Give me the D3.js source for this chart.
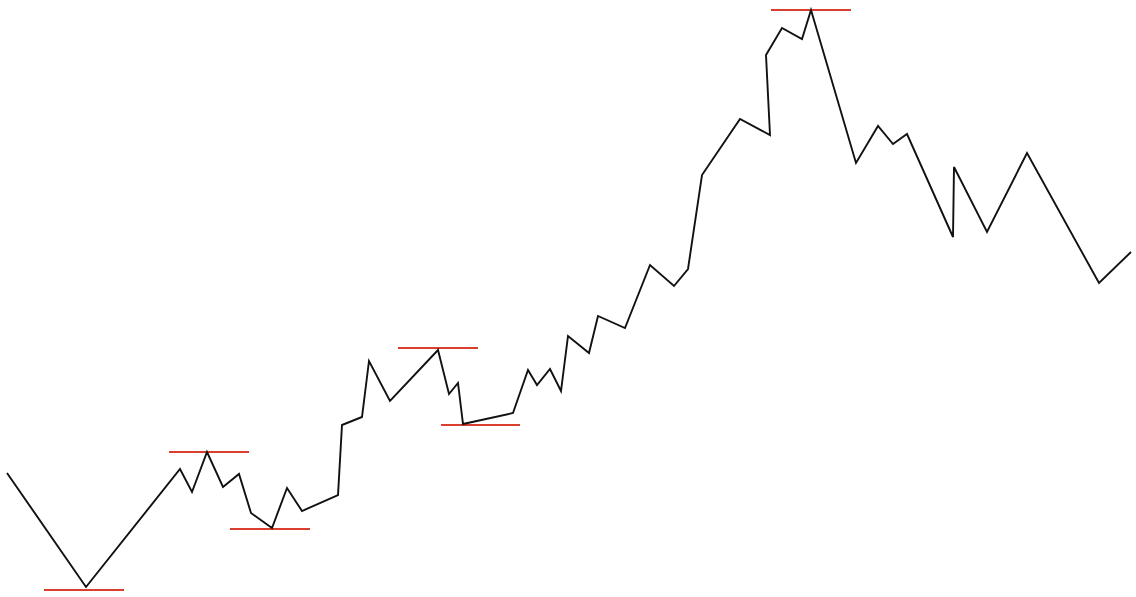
<!DOCTYPE html>
<html lang="en">
<head>
    <meta charset="UTF-8">
    <title>Price swings</title>
    <script src="https://d3js.org/d3.v7.min.js"></script>
    <style>
        html, body { margin: 0; padding: 0; background: #fff; }
        #chart { width: 1136px; height: 597px; }
    </style>
</head>
<body>
    <div id="chart"></div>
    <script>
        const width = 1136
        const height = 597

        // time step and price for each turning point of the path
        const times = [7, 86, 180, 192, 207, 223, 239, 251, 272, 287, 302, 338, 342, 362, 369, 390,
            438, 449, 458, 463, 513, 528, 537, 550, 561, 568, 589, 598, 625, 650, 674, 688,
            702, 740, 770, 766, 782, 802, 811, 856, 878, 893, 907, 953, 954, 987, 1027, 1099, 1131]
        const prices = [127, 13, 131, 108, 148, 113, 126, 87, 72, 112, 89, 105, 175, 183, 239, 199,
            250, 206, 217, 176, 187, 230, 215, 231, 209, 264, 247, 284, 272, 335, 314, 331,
            425, 481, 465, 545, 572, 561, 590, 437, 474, 456, 466, 363, 433, 368, 447, 317, 348]

        // support / resistance levels
        const levelPrices = [10, 148, 71, 252, 175, 590]
        const levelStart = [44, 169, 230, 398, 441, 771]
        const levelEnd = [124, 249, 310, 478, 520, 851]

        const points = times.map((t, i) => ({ t: t, p: prices[i] }))
        const levels = levelPrices.map((p, i) => ({ p: p, from: levelStart[i], to: levelEnd[i] }))

        const x = d3.scaleLinear().domain([0, 1136]).range([0, width])
        const y = d3.scaleLinear().domain([0, 600]).range([600, 0])

        const svg = d3.select("#chart").append("svg")
            .attr("width", width)
            .attr("height", height)
            .attr("viewBox", [0, 0, width, height])

        svg.append("g")
            .selectAll("line")
            .data(levels)
            .enter().append("line")
            .attr("x1", d => x(d.from))
            .attr("x2", d => x(d.to))
            .attr("y1", d => y(d.p))
            .attr("y2", d => y(d.p))
            .attr("stroke", "#d93f2c")
            .attr("stroke-width", 2)

        const line = d3.line().x(d => x(d.t)).y(d => y(d.p))

        svg.append("path")
            .attr("d", line(points))
            .attr("fill", "none")
            .attr("stroke", "#111")
            .attr("stroke-width", 1.9)
            .attr("stroke-linejoin", "miter")
    </script>
</body>
</html>
